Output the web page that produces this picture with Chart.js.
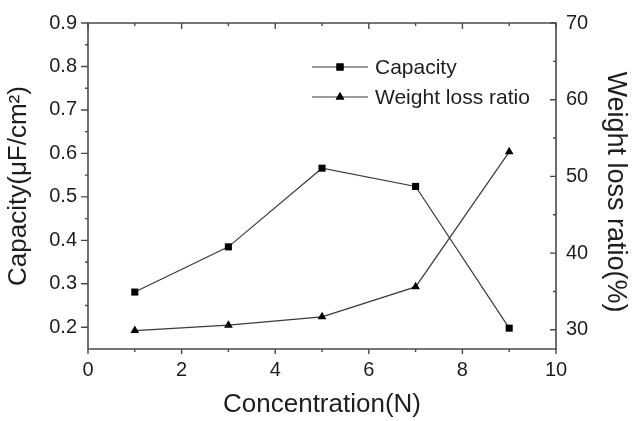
<!DOCTYPE html>
<html>
<head>
<meta charset="utf-8">
<script src="https://cdn.jsdelivr.net/npm/chart.js@4.4.1/dist/chart.umd.min.js"></script>
<style>
  html, body { margin: 0; padding: 0; background: #fff; }
  #wrap { width: 634px; height: 421px; }
</style>
</head>
<body>
<div id="wrap"><canvas id="chart" width="634" height="421"></canvas></div>
<script>
// Measured series
const concentration = [1, 3, 5, 7, 9];
const capacity = [0.281, 0.385, 0.566, 0.524, 0.198];
const weightLoss = [29.9, 30.6, 31.7, 35.6, 53.2];

// Axis ticks
const xTicks = [0, 2, 4, 6, 8, 10];
const xMinorTicks = [1, 3, 5, 7, 9];
const capTicks = [0.2, 0.3, 0.4, 0.5, 0.6, 0.7, 0.8, 0.9];
const capMinorTicks = [0.25, 0.35, 0.45, 0.55, 0.65, 0.75, 0.85];
const lossTicks = [30, 40, 50, 60, 70];
const lossMinorTicks = [35, 45, 55, 65];

const FONT = "'Liberation Sans', Arial, sans-serif";
const TEXT = '#1e1e1e';
const AXIS = '#4a4a4a';
const LINE = '#3a3a3a';

// Frame, tick marks, right-hand title and the legend
const frameAndLegend = {
  id: 'frameAndLegend',
  afterDraw(chart) {
    const ctx = chart.ctx;
    const a = chart.chartArea;
    const sx = chart.scales.x, sy = chart.scales.y, sy2 = chart.scales.y2;
    ctx.save();
    ctx.strokeStyle = AXIS;
    ctx.lineWidth = 1.6;
    ctx.lineCap = 'square';
    ctx.beginPath();
    ctx.rect(a.left, a.top, a.right - a.left, a.bottom - a.top);
    ctx.stroke();
    ctx.lineCap = 'butt';
    ctx.lineWidth = 1.4;
    const tick = (x1, y1, x2, y2) => { ctx.moveTo(x1, y1); ctx.lineTo(x2, y2); };
    ctx.beginPath();
    // bottom: outward
    xTicks.forEach(v => { const p = sx.getPixelForValue(v); tick(p, a.bottom, p, a.bottom + 5); });
    xMinorTicks.forEach(v => { const p = sx.getPixelForValue(v); tick(p, a.bottom, p, a.bottom + 3); });
    // top: inward
    xTicks.forEach(v => { const p = sx.getPixelForValue(v); tick(p, a.top, p, a.top + 6); });
    xMinorTicks.forEach(v => { const p = sx.getPixelForValue(v); tick(p, a.top, p, a.top + 3); });
    // left: outward
    capTicks.forEach(v => { const p = sy.getPixelForValue(v); tick(a.left - 7, p, a.left, p); });
    capMinorTicks.forEach(v => { const p = sy.getPixelForValue(v); tick(a.left - 3, p, a.left, p); });
    // right: inward
    lossTicks.forEach(v => { const p = sy2.getPixelForValue(v); tick(a.right - 6, p, a.right, p); });
    lossMinorTicks.forEach(v => { const p = sy2.getPixelForValue(v); tick(a.right - 3, p, a.right, p); });
    ctx.stroke();

    // right axis title
    ctx.save();
    ctx.translate(615, 192);
    ctx.rotate(Math.PI / 2);
    ctx.fillStyle = TEXT;
    ctx.font = '27px ' + FONT;
    ctx.textAlign = 'center';
    ctx.textBaseline = 'middle';
    ctx.fillText('Weight loss ratio(%)', 0, 0);
    ctx.restore();

    // legend
    const items = chart.data.datasets.map((d, i) => ({ ds: d, y: [67, 97][i] }));
    ctx.font = '21px ' + FONT;
    ctx.textAlign = 'left';
    ctx.textBaseline = 'middle';
    items.forEach(it => {
      ctx.strokeStyle = LINE;
      ctx.lineWidth = 1.2;
      ctx.beginPath();
      ctx.moveTo(312, it.y);
      ctx.lineTo(368, it.y);
      ctx.stroke();
      ctx.fillStyle = '#000';
      Chart.helpers.drawPoint(ctx, {
        pointStyle: it.ds.pointStyle,
        radius: it.ds.pointRadius,
        rotation: 0,
        borderWidth: 0
      }, 340, it.y);
      ctx.fill();
      ctx.fillStyle = TEXT;
      ctx.fillText(it.ds.label, 375, it.y + 1);
    });
    ctx.restore();
  }
};

const tickFont = { family: FONT, size: 20 };

new Chart(document.getElementById('chart'), {
  type: 'line',
  data: {
    datasets: [
      {
        label: 'Capacity',
        data: concentration.map((c, i) => ({ x: c, y: capacity[i] })),
        yAxisID: 'y',
        borderColor: LINE,
        borderWidth: 1.2,
        backgroundColor: '#000',
        pointBackgroundColor: '#000',
        pointBorderColor: '#000',
        pointBorderWidth: 0,
        pointStyle: 'rect',
        pointRadius: 5,
        tension: 0
      },
      {
        label: 'Weight loss ratio',
        data: concentration.map((c, i) => ({ x: c, y: weightLoss[i] })),
        yAxisID: 'y2',
        borderColor: LINE,
        borderWidth: 1.2,
        backgroundColor: '#000',
        pointBackgroundColor: '#000',
        pointBorderColor: '#000',
        pointBorderWidth: 0,
        pointStyle: 'triangle',
        pointRadius: 5,
        tension: 0
      }
    ]
  },
  options: {
    responsive: false,
    animation: false,
    events: [],
    layout: { padding: { top: 17, left: 0, right: 0, bottom: 0 } },
    plugins: { legend: { display: false }, tooltip: { enabled: false } },
    scales: {
      x: {
        type: 'linear',
        position: 'bottom',
        min: 0,
        max: 10,
        afterBuildTicks: s => { s.ticks = xTicks.map(v => ({ value: v })); },
        ticks: { font: tickFont, color: TEXT, padding: 9, maxRotation: 0, callback: v => String(v) },
        grid: { display: false, drawTicks: false },
        border: { display: false },
        title: { display: true, text: 'Concentration(N)', color: TEXT, font: { family: FONT, size: 26 }, padding: { top: 0, bottom: 1 } },
        afterFit: s => { s.height = 72; }
      },
      y: {
        type: 'linear',
        position: 'left',
        min: 0.15,
        max: 0.9,
        afterBuildTicks: s => { s.ticks = capTicks.map(v => ({ value: v })); },
        ticks: { font: tickFont, color: TEXT, padding: 11, callback: v => v.toFixed(1) },
        grid: { display: false, drawTicks: false },
        border: { display: false },
        title: { display: true, text: 'Capacity(μF/cm²)', color: TEXT, font: { family: FONT, size: 26 }, padding: { top: 3, bottom: 0 } },
        afterFit: s => { s.width = 88; }
      },
      y2: {
        type: 'linear',
        position: 'right',
        min: 27.5,
        max: 70,
        afterBuildTicks: s => { s.ticks = lossTicks.map(v => ({ value: v })); },
        ticks: { font: tickFont, color: TEXT, padding: 10, callback: v => String(v) },
        grid: { display: false, drawTicks: false },
        border: { display: false },
        afterFit: s => { s.width = 78; }
      }
    }
  },
  plugins: [frameAndLegend]
});
</script>
</body>
</html>
